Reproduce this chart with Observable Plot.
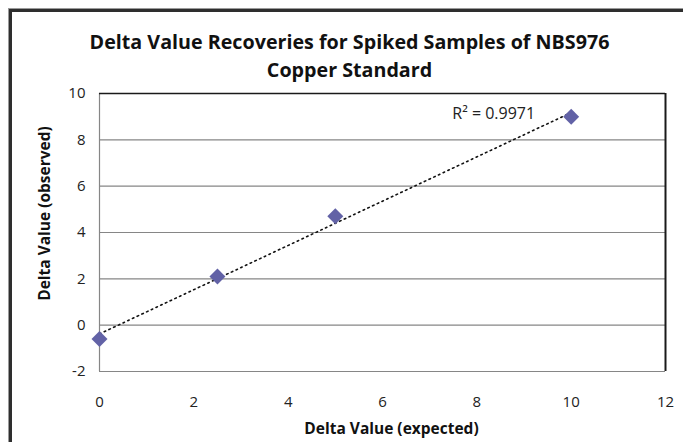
<!DOCTYPE html>
<html>
<head>
<meta charset="utf-8">
<script src="https://cdn.jsdelivr.net/npm/d3@7"></script>
<script src="https://cdn.jsdelivr.net/npm/@observablehq/plot@0.6"></script>
<style>
  html, body { margin: 0; padding: 0; background: #fff; }
  #wrap { position: relative; width: 683px; height: 442px; overflow: hidden; }
  #border { position: absolute; left: 9px; top: 9px; width: 700px; height: 460px;
            border-left: 3px solid #2e2e2e; border-top: 3px solid #2e2e2e;
            box-shadow: -1px -1px 0 #9a9a9a; pointer-events: none; }
  #chart { position: absolute; left: 0; top: 0; }
</style>
</head>
<body>
<div id="wrap"><div id="chart"></div><div id="border"></div></div>
<script>
const expected = [0, 2.5, 5, 10];
const observed = [-0.6, 2.1, 4.7, 9.0];
const xTicks = [0, 2, 4, 6, 8, 10, 12];
const yTicks = [-2, 0, 2, 4, 6, 8, 10];
const titleLines = ["Delta Value Recoveries for Spiked Samples of NBS976", "Copper Standard"];
const xLabel = "Delta Value (expected)";
const yLabel = "Delta Value (observed)";
const r2Label = "R\u00B2 = 0.9971";

const data = expected.map((x, i) => ({x, y: observed[i]}));
const font = "'Open Sans', Lato, sans-serif";

const chart = Plot.plot({
  width: 683,
  height: 442,
  marginLeft: 99,
  marginRight: 18,
  marginTop: 93,
  marginBottom: 71,
  style: {fontFamily: font, fontSize: "15px", background: "transparent", overflow: "visible"},
  x: {domain: [0, 12], axis: null},
  y: {domain: [-2, 10], axis: null},
  marks: [
    Plot.ruleY(yTicks.filter(d => d < 10), {stroke: "#868686", strokeWidth: 1.2}),
    Plot.ruleX([0], {stroke: "#868686", strokeWidth: 1.2}),
    Plot.ruleY([10], {stroke: "#1a1a1a", strokeWidth: 1.5}),
    Plot.ruleX([12], {stroke: "#1a1a1a", strokeWidth: 2}),
    Plot.text(xTicks, {x: d => d, frameAnchor: "bottom", text: d => `${d}`, textAnchor: "middle", lineAnchor: "middle", dy: 31, fontSize: 15, fill: "#222"}),
    Plot.text(yTicks, {y: d => d, frameAnchor: "left", text: d => `${d}`, textAnchor: "end", lineAnchor: "middle", dx: -14, fontSize: 15, fill: "#222"}),
    Plot.linearRegressionY(data, {x: "x", y: "y", ci: 0, stroke: "#111", strokeWidth: 1.6, strokeDasharray: "1.6,3.6"}),
    Plot.dot(data, {x: "x", y: "y", symbol: "diamond2", r: 7.2, fill: "#6262a6", stroke: "none"}),
    Plot.text([r2Label], {x: () => expected[expected.length - 1], y: () => observed[observed.length - 1], text: d => d, textAnchor: "end", lineAnchor: "middle", dx: -36, dy: -3, fontSize: 16, fill: "#222"}),
    Plot.text([titleLines[0]], {frameAnchor: "top", text: d => d, textAnchor: "middle", lineAnchor: "middle", dx: -33, dy: -51, fontSize: 19.7, fontWeight: "bold", fill: "#111"}),
    Plot.text([titleLines[1]], {frameAnchor: "top", text: d => d, textAnchor: "middle", lineAnchor: "middle", dx: -33, dy: -23, fontSize: 19.7, fontWeight: "bold", fill: "#111"}),
    Plot.text([xLabel], {frameAnchor: "bottom", text: d => d, textAnchor: "middle", lineAnchor: "middle", dx: 9, dy: 58, fontSize: 15.5, fontWeight: "bold", fill: "#111"}),
    Plot.text([yLabel], {frameAnchor: "left", text: d => d, textAnchor: "middle", lineAnchor: "middle", rotate: -90, dx: -54, dy: -19, fontSize: 15.5, fontWeight: "bold", fill: "#111"})
  ]
});
document.getElementById("chart").appendChild(chart);
</script>
</body>
</html>
